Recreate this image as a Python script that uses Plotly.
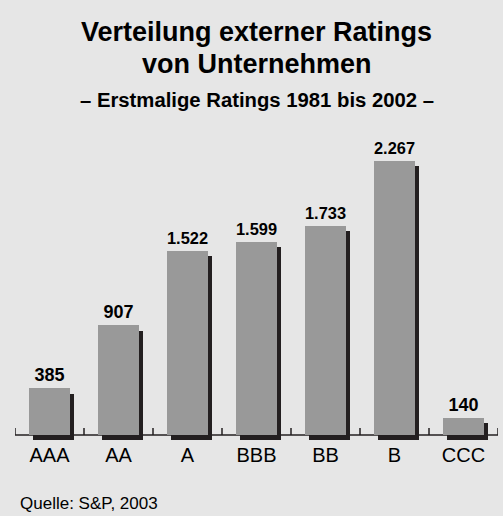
import plotly.graph_objects as go

categories = ["AAA", "AA", "A", "BBB", "BB", "B", "CCC"]
ratings_count = [385, 907, 1522, 1599, 1733, 2267, 140]

title_line1 = "Verteilung externer Ratings"
title_line2 = "von Unternehmen"
subtitle = "– Erstmalige Ratings 1981 bis 2002 –"
source = "Quelle: S&P, 2003"

BG = "#e6e6e6"
BAR = "#999999"
SHADOW = "#231f20"
FONT = "Liberation Sans, Arial, Helvetica, sans-serif"

W, H = 503, 516
top_px, bot_px = 140, 441
y_max, y_min = 2440.8, -49.6
px_per_unit = (bot_px - top_px) / (y_max - y_min)

bw = 41 / 69
shadow_dx = 4 / 69
shadow_dy = 5.4 / px_per_unit

def py(p):
    return (bot_px - p) / (bot_px - top_px)

fig = go.Figure()
fig.add_trace(go.Bar(
    x=categories, y=ratings_count, base=-shadow_dy,
    width=bw, offset=-bw / 2 + shadow_dx,
    marker=dict(color=SHADOW, line=dict(width=0)),
    hoverinfo="skip", showlegend=False,
))
fig.add_trace(go.Bar(
    x=categories, y=ratings_count,
    width=bw, offset=-bw / 2,
    marker=dict(color=BAR, line=dict(width=0)),
    texttemplate="%{y:,}", textposition="outside",
    textfont=dict(family=FONT, size=18, color="#000000", weight="bold"),
    cliponaxis=False, showlegend=False,
))

shapes = [dict(type="line", xref="x", yref="y", x0=-0.5, x1=len(categories) - 0.5,
               y0=0, y1=0, line=dict(color=SHADOW, width=1.5), layer="below")]
tick_h = 7 / px_per_unit
for k in range(len(categories) + 1):
    shapes.append(dict(type="line", xref="x", yref="y", x0=k - 0.5, x1=k - 0.5,
                       y0=0, y1=tick_h, line=dict(color=SHADOW, width=1.5), layer="below"))

annotations = [
    dict(text=f"<b>{title_line1}</b>", x=0.5, xref="paper", y=py(31.5), yref="paper",
         xanchor="center", yanchor="middle", showarrow=False,
         font=dict(family=FONT, size=27, color="#000")),
    dict(text=f"<b>{title_line2}</b>", x=0.5, xref="paper", y=py(63.5), yref="paper",
         xanchor="center", yanchor="middle", showarrow=False,
         font=dict(family=FONT, size=27, color="#000")),
    dict(text=f"<b>{subtitle}</b>", x=0.5, xref="paper", y=py(100), yref="paper",
         xanchor="center", yanchor="middle", showarrow=False,
         font=dict(family=FONT, size=20.3, color="#000")),
    dict(text=source, x=(18 - 15) / 483, xref="paper", y=py(503), yref="paper",
         xanchor="left", yanchor="middle", showarrow=False,
         font=dict(family=FONT, size=17, color="#000")),
]

fig.update_layout(
    width=W, height=H,
    margin=dict(l=15, r=5, t=top_px, b=H - bot_px, pad=0),
    paper_bgcolor=BG, plot_bgcolor=BG,
    barmode="overlay", bargap=0,
    separators=",.",
    shapes=shapes, annotations=annotations,
    xaxis=dict(type="category", range=[-0.5, len(categories) - 0.5],
               showline=False, showgrid=False, zeroline=False, ticks="",
               tickfont=dict(family=FONT, size=20, color="#000"), fixedrange=True),
    yaxis=dict(range=[y_min, y_max], visible=False, fixedrange=True),
)

fig.write_html("out.html", config={"displayModeBar": False},
               post_script="document.body.style.margin='0';document.body.style.background='" + BG + "';")
